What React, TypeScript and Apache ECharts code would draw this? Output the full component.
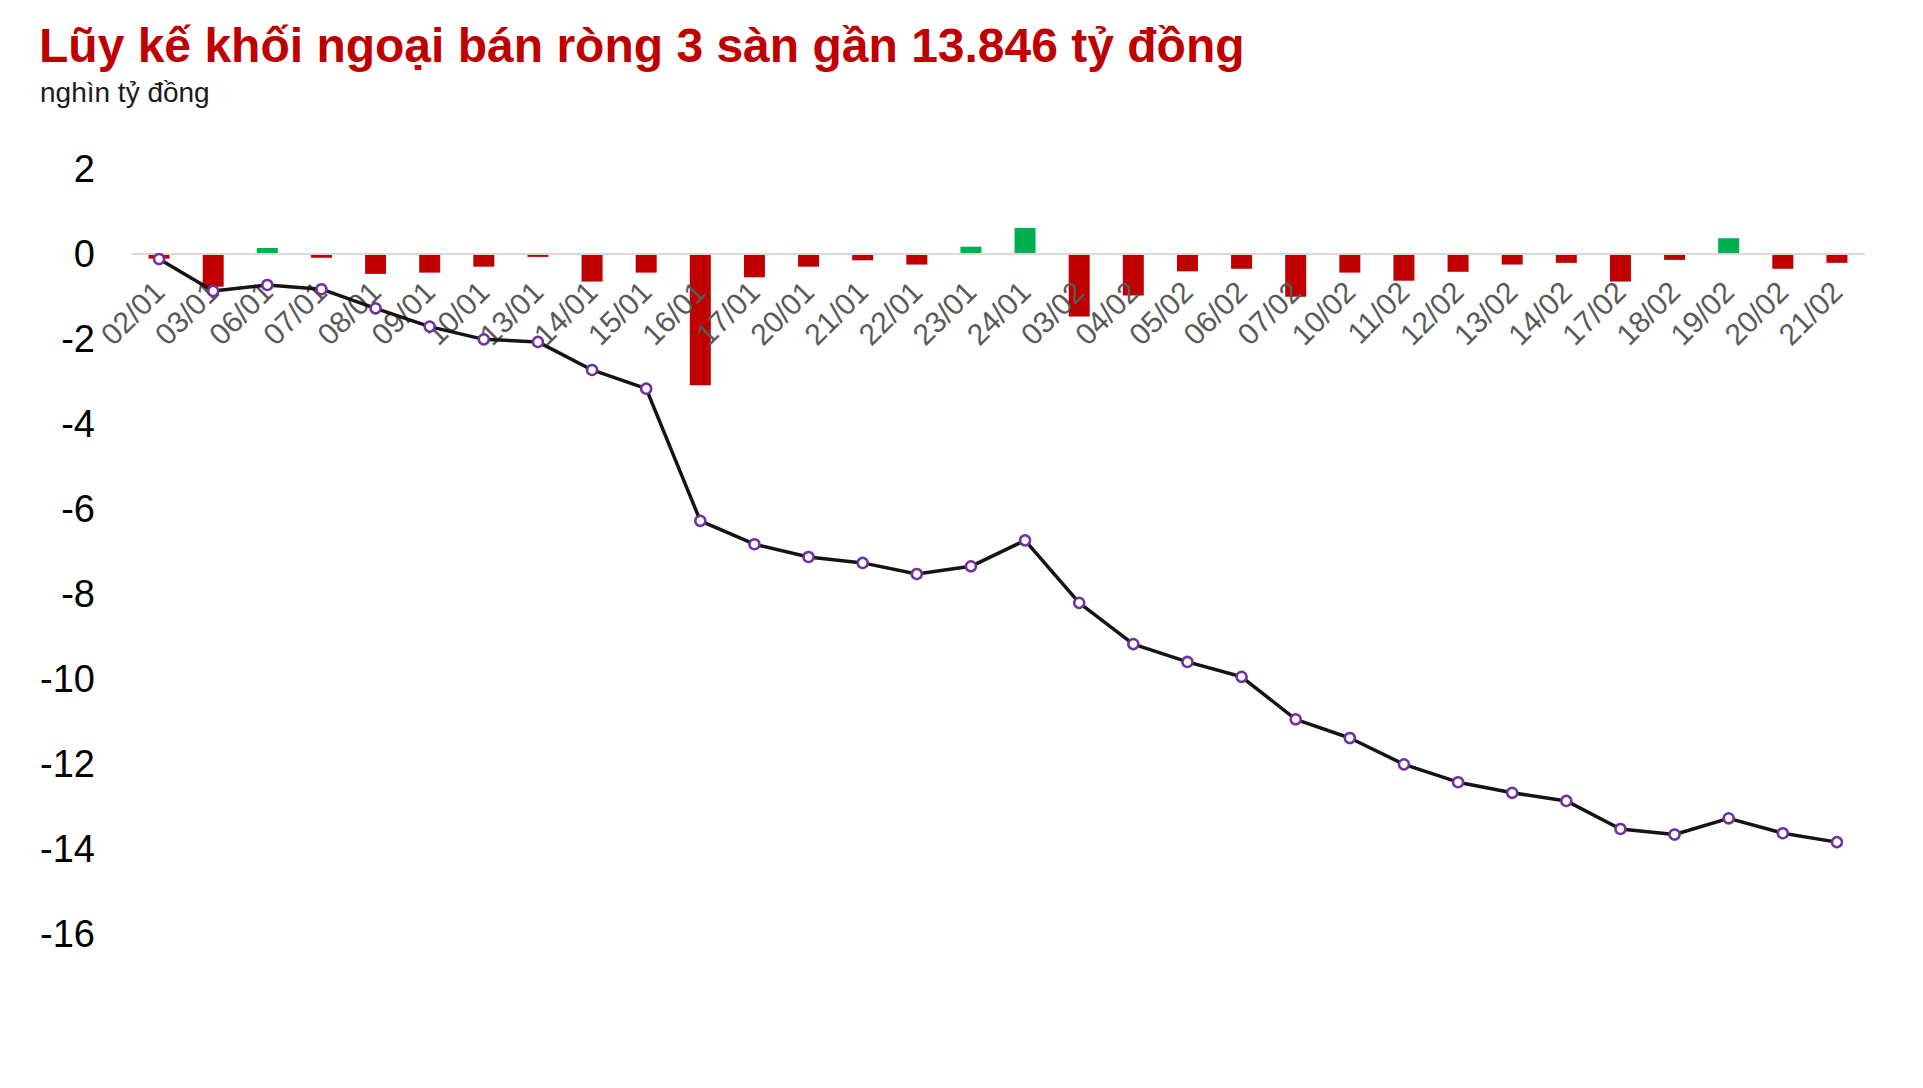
import React, { useEffect, useRef } from "react";
import * as echarts from "echarts";

const TITLE = "Lũy kế khối ngoại bán ròng 3 sàn gần 13.846 tỷ đồng";
const UNIT = "nghìn tỷ đồng";

const categories = [
  "02/01", "03/01", "06/01", "07/01", "08/01", "09/01", "10/01", "13/01",
  "14/01", "15/01", "16/01", "17/01", "20/01", "21/01", "22/01", "23/01",
  "24/01", "03/02", "04/02", "05/02", "06/02", "07/02", "10/02", "11/02",
  "12/02", "13/02", "14/02", "17/02", "18/02", "19/02", "20/02", "21/02",
];

// Daily net foreign buy/sell (thousand billion VND)
const dailyNet = [
  -0.12, -0.78, 0.13, -0.1, -0.48, -0.45, -0.31, -0.08,
  -0.66, -0.45, -3.1, -0.56, -0.31, -0.16, -0.26, 0.16,
  0.6, -1.48, -0.99, -0.42, -0.36, -1.02, -0.45, -0.64,
  -0.43, -0.26, -0.22, -0.66, -0.15, 0.36, -0.36, -0.22,
];

// Cumulative net (thousand billion VND)
const cumulative = [
  -0.13, -0.88, -0.74, -0.84, -1.29, -1.72, -2.02, -2.08,
  -2.74, -3.18, -6.29, -6.84, -7.14, -7.28, -7.54, -7.36,
  -6.75, -8.22, -9.19, -9.61, -9.96, -10.96, -11.4, -12.02,
  -12.44, -12.69, -12.88, -13.54, -13.67, -13.29, -13.64, -13.85,
];

const yMin = -16;
const yMax = 2;
const yStep = 2;

const RED = "#c00000";
const GREEN = "#00b050";
const FONT = "'Liberation Sans', Arial, Helvetica, sans-serif";

const GRID_TOP = 168.5;
const GRID_BOTTOM = 154.5;
const CHART_H = 1088;

export default function App() {
  const ref = useRef<HTMLDivElement>(null);

  useEffect(() => {
    if (!ref.current) return;
    const chart = echarts.init(ref.current, undefined, { renderer: "svg" });
    const plotH = CHART_H - GRID_TOP - GRID_BOTTOM;
    // distance from bottom edge of the grid up to the zero value
    const zeroFromBottom = (plotH * (0 - yMin)) / (yMax - yMin);
    chart.setOption({
      animation: false,
      backgroundColor: "#ffffff",
      textStyle: { fontFamily: FONT },
      graphic: [
        {
          type: "text",
          x: 39,
          y: 45,
          style: {
            text: TITLE,
            fill: RED,
            fontSize: 48,
            fontWeight: "bold",
            fontFamily: FONT,
            align: "left",
            verticalAlign: "middle",
          },
        },
        {
          type: "text",
          x: 40,
          y: 92,
          style: {
            text: UNIT,
            fill: "#1a1a1a",
            fontSize: 28,
            fontFamily: FONT,
            align: "left",
            verticalAlign: "middle",
          },
        },
      ],
      grid: { left: 132, right: 59, top: GRID_TOP, bottom: GRID_BOTTOM, containLabel: false },
      xAxis: {
        type: "category",
        data: categories,
        z: 10,
        position: "bottom",
        offset: -zeroFromBottom,
        axisLine: { onZero: false, lineStyle: { color: "#d9d9d9", width: 2 } },
        axisTick: { show: false },
        axisLabel: {
          rotate: 45,
          interval: 0,
          margin: 33,
          color: "#595959",
          fontSize: 30,
          fontFamily: FONT,
        },
        splitLine: { show: false },
      },
      yAxis: {
        type: "value",
        min: yMin,
        max: yMax,
        interval: yStep,
        axisLine: { show: false },
        axisTick: { show: false },
        splitLine: { show: false },
        axisLabel: { color: "#000000", fontSize: 38, margin: 37, fontFamily: FONT },
      },
      series: [
        {
          type: "bar",
          data: dailyNet,
          barWidth: 21,
          z: 2,
          itemStyle: {
            color: (p: any) => (p.value < 0 ? RED : GREEN),
          },
        },
        {
          type: "line",
          data: cumulative,
          z: 12,
          symbol: "circle",
          symbolSize: 10,
          showAllSymbol: true,
          lineStyle: { color: "#141414", width: 3.5 },
          itemStyle: { color: "#ffffff", borderColor: "#7030a0", borderWidth: 2.5 },
        },
      ],
    });
    return () => chart.dispose();
  }, []);

  return (
    <div
      ref={ref}
      style={{ position: "fixed", left: 0, top: 0, width: "1923px", height: "1088px" }}
    />
  );
}
